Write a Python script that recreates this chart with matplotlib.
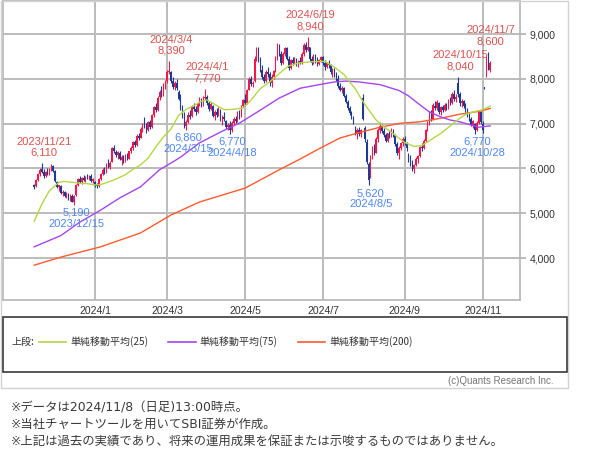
import matplotlib
matplotlib.use("Agg")
import matplotlib.pyplot as plt
from matplotlib.patches import Rectangle
from matplotlib.lines import Line2D
from matplotlib.ticker import FuncFormatter
import numpy as np

plt.rcParams['font.family'] = ['Liberation Sans', 'Noto Sans CJK JP', 'DejaVu Sans']

# ---------------- data (daily candles, 2023/11/15 .. 2024/11/8, trading-day index) ----------------
opens = [
    5620, 5600, 5740, 5880, 5980, 5920, 5820, 5930, 5870, 5990,
    6050, 5940, 5700, 5580, 5610, 5450, 5480, 5400, 5440, 5320,
    5380, 5250, 5400, 5620, 5760, 5690, 5780, 5740, 5800, 5770,
    5840, 5720, 5700, 5620, 5600, 5760, 5880, 5970, 5920, 6100,
    6040, 6150, 6460, 6370, 6300, 6350, 6190, 6250, 6160, 6300,
    6220, 6380, 6460, 6580, 6520, 6730, 6690, 6880, 6980, 6940,
    6860, 7030, 6920, 7200, 7360, 7300, 7600, 7700, 7640, 7860,
    7950, 8160, 8150, 7950, 7820, 7900, 7700, 7560, 7350, 7150,
    6950, 7040, 7200, 7160, 7380, 7320, 7250, 7450, 7560, 7420,
    7580, 7600, 7450, 7320, 7400, 7180, 7260, 7200, 7300, 7080,
    7150, 7050, 6920, 6980, 6850, 7020, 7100, 7060, 7250, 7150,
    7400, 7520, 7450, 7760, 8000, 7880, 7950, 8450, 8650, 8420,
    8200, 8050, 7960, 8150, 8100, 7900, 8050, 8180, 8450, 8750,
    8550, 8350, 8560, 8680, 8450, 8250, 8420, 8350, 8440, 8300,
    8400, 8350, 8560, 8750, 8640, 8700, 8450, 8350, 8520, 8400,
    8320, 8420, 8480, 8350, 8260, 8350, 8300, 8150, 8200, 8080,
    8000, 7850, 7750, 7800, 7620, 7480, 7350, 7230, 7150, 6920,
    6800, 6850, 6760, 7580, 6900, 6600, 6100, 5800, 6250, 6400,
    6350, 6650, 6850, 6950, 6830, 6750, 6620, 6780, 6720, 6860,
    6740, 6540, 6350, 6450, 6560, 6650, 6560, 6300, 6200, 6100,
    5980, 6080, 6200, 6280, 6480, 6450, 6620, 6850, 7000, 7200,
    7100, 7400, 7350, 7450, 7260, 7380, 7300, 7420, 7330, 7520,
    7450, 7650, 7560, 7900, 7650, 7450, 7500, 7400, 7300, 7180,
    7100, 6980, 7000, 6850, 7020, 7250, 7000, 7800, 8100, 8450,
    8200,
]
highs = [
    5660, 5760, 5900, 6000, 6110, 5990, 5950, 6000, 6020, 6090,
    6080, 5960, 5720, 5640, 5630, 5520, 5500, 5470, 5460, 5420,
    5440, 5400, 5650, 5780, 5820, 5800, 5850, 5830, 5880, 5860,
    5870, 5790, 5720, 5680, 5780, 5900, 6000, 6040, 6120, 6200,
    6160, 6480, 6520, 6420, 6400, 6380, 6300, 6290, 6320, 6340,
    6400, 6500, 6620, 6640, 6760, 6800, 6920, 7020, 7150, 7020,
    7060, 7080, 7220, 7400, 7450, 7620, 7750, 7850, 7900, 7980,
    8200, 8390, 8180, 8050, 7950, 8000, 7760, 7650, 7420, 7250,
    7080, 7250, 7300, 7420, 7460, 7400, 7480, 7600, 7580, 7620,
    7770, 7640, 7500, 7480, 7420, 7300, 7340, 7380, 7320, 7200,
    7250, 7080, 7020, 7060, 7050, 7150, 7180, 7280, 7300, 7420,
    7560, 7650, 7780, 8040, 8060, 7950, 8500, 8710, 8700, 8480,
    8300, 8100, 8200, 8260, 8150, 8100, 8200, 8500, 8800, 8780,
    8620, 8600, 8720, 8700, 8500, 8450, 8480, 8480, 8460, 8420,
    8480, 8600, 8800, 8820, 8940, 8720, 8520, 8560, 8550, 8480,
    8450, 8520, 8500, 8420, 8380, 8420, 8340, 8250, 8240, 8150,
    8080, 7900, 7850, 7820, 7650, 7520, 7400, 7280, 7180, 6950,
    6900, 6920, 6880, 7650, 6950, 6650, 6150, 6300, 6500, 6550,
    6700, 6900, 7040, 7000, 6900, 6800, 6800, 6850, 6900, 6880,
    6760, 6600, 6500, 6600, 6700, 6720, 6600, 6350, 6300, 6180,
    6100, 6250, 6300, 6500, 6560, 6650, 6880, 7050, 7280, 7300,
    7460, 7500, 7520, 7480, 7400, 7420, 7450, 7460, 7550, 7600,
    7700, 7750, 7650, 8040, 7700, 7550, 7530, 7450, 7350, 7250,
    7150, 7080, 7020, 7050, 7300, 7280, 7050, 7820, 8500, 8600,
    8400,
]
lows = [
    5540, 5590, 5720, 5840, 5900, 5780, 5800, 5860, 5850, 5940,
    5920, 5700, 5560, 5500, 5440, 5380, 5360, 5340, 5300, 5280,
    5240, 5190, 5390, 5600, 5680, 5660, 5720, 5700, 5760, 5740,
    5700, 5680, 5580, 5560, 5590, 5740, 5850, 5880, 5900, 6020,
    5980, 6140, 6340, 6250, 6220, 6180, 6080, 6130, 6140, 6190,
    6200, 6340, 6420, 6480, 6500, 6640, 6670, 6820, 6900, 6800,
    6840, 6880, 6900, 7150, 7250, 7280, 7520, 7600, 7620, 7780,
    7900, 8100, 7900, 7780, 7750, 7760, 7520, 7300, 7120, 6900,
    6860, 7020, 7100, 7140, 7280, 7200, 7230, 7400, 7380, 7400,
    7520, 7420, 7280, 7300, 7150, 7080, 7150, 7180, 7050, 6980,
    7050, 6880, 6850, 6770, 6820, 6980, 7020, 7040, 7100, 7140,
    7380, 7400, 7440, 7740, 7840, 7820, 7940, 8400, 8380, 8150,
    8000, 7900, 7940, 8050, 7850, 7820, 8000, 8160, 8420, 8500,
    8300, 8330, 8500, 8420, 8200, 8230, 8300, 8320, 8280, 8260,
    8320, 8340, 8520, 8600, 8620, 8400, 8300, 8330, 8350, 8280,
    8300, 8380, 8300, 8200, 8240, 8250, 8100, 8040, 8050, 7950,
    7800, 7720, 7680, 7600, 7450, 7300, 7200, 7100, 7000, 6750,
    6650, 6720, 6700, 7080, 6600, 6100, 5620, 5780, 6200, 6300,
    6340, 6600, 6800, 6800, 6700, 6580, 6600, 6680, 6700, 6700,
    6500, 6300, 6200, 6420, 6500, 6520, 6400, 6150, 6050, 5950,
    5900, 6050, 6120, 6260, 6400, 6430, 6600, 6830, 6980, 7050,
    7080, 7300, 7300, 7220, 7200, 7250, 7280, 7300, 7320, 7420,
    7430, 7500, 7480, 7600, 7400, 7380, 7350, 7250, 7150, 7050,
    6950, 6900, 6770, 6830, 7000, 7000, 6800, 7780, 8050, 8200,
    8150,
]
closes = [
    5580, 5740, 5880, 5960, 5930, 5820, 5920, 5880, 5990, 6060,
    5950, 5720, 5590, 5620, 5460, 5480, 5380, 5440, 5320, 5400,
    5260, 5380, 5620, 5760, 5700, 5780, 5750, 5810, 5780, 5840,
    5720, 5760, 5620, 5600, 5760, 5880, 5970, 5920, 6100, 6050,
    6130, 6450, 6380, 6300, 6360, 6200, 6260, 6160, 6300, 6220,
    6380, 6460, 6580, 6520, 6730, 6680, 6880, 6960, 6950, 6860,
    7030, 6920, 7200, 7360, 7300, 7580, 7700, 7640, 7860, 7940,
    8150, 8180, 7950, 7820, 7900, 7800, 7560, 7350, 7150, 6950,
    7040, 7200, 7150, 7380, 7320, 7250, 7450, 7560, 7420, 7580,
    7600, 7450, 7320, 7440, 7180, 7260, 7200, 7350, 7080, 7150,
    7100, 6920, 6980, 6850, 7020, 7100, 7060, 7250, 7150, 7400,
    7520, 7450, 7760, 8000, 7880, 7900, 8450, 8650, 8420, 8200,
    8050, 7960, 8150, 8100, 7900, 8050, 8180, 8450, 8750, 8550,
    8350, 8560, 8680, 8450, 8250, 8420, 8350, 8440, 8300, 8400,
    8350, 8560, 8750, 8640, 8700, 8450, 8350, 8520, 8400, 8320,
    8420, 8480, 8350, 8260, 8350, 8300, 8150, 8200, 8080, 8000,
    7850, 7750, 7800, 7620, 7480, 7350, 7230, 7150, 7020, 6800,
    6850, 6760, 6850, 7100, 6650, 6150, 5750, 6250, 6450, 6350,
    6650, 6850, 6950, 6830, 6750, 6620, 6780, 6720, 6860, 6740,
    6540, 6350, 6450, 6560, 6650, 6560, 6450, 6200, 6100, 6000,
    6080, 6220, 6280, 6480, 6450, 6620, 6850, 7000, 7200, 7100,
    7420, 7350, 7480, 7260, 7380, 7300, 7420, 7330, 7520, 7450,
    7650, 7560, 7600, 7650, 7450, 7500, 7400, 7300, 7180, 7100,
    6980, 7050, 6850, 7020, 7250, 7030, 6850, 7800, 8450, 8250,
    8350,
]

# moving averages (trading-day index -> price)
ma25_idx = [0, 4, 8, 13, 16, 20, 24, 28, 32, 35, 40, 44, 48, 52, 56, 60, 64, 68, 72, 76,
            80, 84, 88, 91, 95, 100, 105, 110, 114, 119, 124, 129, 134, 139, 145, 153,
            158, 163, 166, 169, 172, 175, 180, 185, 190, 195, 200, 204, 208, 214, 219,
            224, 228, 232, 236, 240]
ma25_val = [4820, 5200, 5500, 5690, 5710, 5690, 5670, 5660, 5630, 5640, 5710, 5780, 5860,
            5980, 6080, 6230, 6480, 6700, 6880, 7180, 7320, 7400, 7500, 7530, 7430, 7310,
            7320, 7350, 7520, 7780, 7930, 8120, 8290, 8350, 8380, 8390, 8260, 8100, 7930,
            7780, 7560, 7370, 7080, 6900, 6740, 6580, 6490, 6510, 6620, 6780, 6950, 7120,
            7220, 7270, 7310, 7390]
ma75_idx = [0, 14, 24, 35, 45, 56, 66, 72, 77, 87, 98, 108, 119, 129, 140, 150, 158, 164,
            171, 182, 192, 197, 203, 208, 214, 219, 224, 229, 234, 240]
ma75_val = [4250, 4500, 4800, 5070, 5340, 5590, 5970, 6120, 6250, 6570, 6810, 7010, 7300,
            7570, 7790, 7870, 7930, 7950, 7930, 7870, 7740, 7620, 7420, 7260, 7150, 7080,
            7040, 6980, 6920, 6950]
ma200_idx = [0, 14, 35, 56, 72, 87, 111, 129, 140, 150, 161, 172, 182, 193, 203, 214, 224,
             235, 240]
ma200_val = [3840, 4020, 4250, 4560, 4960, 5250, 5560, 5970, 6210, 6440, 6680, 6810, 6920,
             7010, 7040, 7120, 7210, 7280, 7340]

# axis ticks
x_tick_idx = [32, 70, 111, 152, 195, 236]
x_tick_labels = ["2024/1", "2024/3", "2024/5", "2024/7", "2024/9", "2024/11"]
y_ticks = [4000, 5000, 6000, 7000, 8000, 9000]

# high / low annotations
ann_idx = [4, 71, 90, 144, 223, 239, 21, 80, 103, 176, 232]
ann_dates = ["2023/11/21", "2024/3/4", "2024/4/1", "2024/6/19", "2024/10/15", "2024/11/7",
             "2023/12/15", "2024/3/15", "2024/4/18", "2024/8/5", "2024/10/28"]
ann_values = [6110, 8390, 7770, 8940, 8040, 8600, 5190, 6860, 6770, 5620, 6770]
ann_is_high = [True, True, True, True, True, True, False, False, False, False, False]

legend_labels = ["単純移動平均(25)", "単純移動平均(75)", "単純移動平均(200)"]
footnotes = ["※データは2024/11/8（日足)13:00時点。",
             "※当社チャートツールを用いてSBI証券が作成。",
             "※上記は過去の実績であり、将来の運用成果を保証または示唆するものではありません。"]

# ---------------- styling ----------------
RED = '#f5174a'
BLUE = '#1d3b95'
C25 = '#b2d843'
C75 = '#a545ee'
C200 = '#ff5a2e'
GRID = '#bcbcbc'
TXT = '#333333'
ANN_RED = '#d9534f'
ANN_BLUE = '#4f86f7'

W, H = 600, 465
fig = plt.figure(figsize=(6, 4.65), dpi=100)
fig.patch.set_facecolor('white')


def fx(px):
    return px / W


def fy(py):
    return 1 - py / H


ax = fig.add_axes([fx(3), fy(300), fx(520) - fx(3), fy(1) - fy(300)])

n = min(len(opens), len(highs), len(lows), len(closes))
o = np.array(opens[:n], float)
h = np.array(highs[:n], float)
l = np.array(lows[:n], float)
c = np.array(closes[:n], float)
xi = np.arange(n)
cols = [RED if cc > oo else BLUE for oo, cc in zip(o, c)]

ax.vlines(xi, l, h, colors=cols, lw=0.8, zorder=3)
ax.bar(xi, np.maximum(np.abs(c - o), 18), bottom=np.minimum(o, c), width=0.8,
       color=cols, linewidth=0, zorder=3)

ax.plot(ma200_idx, ma200_val, color=C200, lw=1.0, zorder=4)
ax.plot(ma75_idx, ma75_val, color=C75, lw=1.0, zorder=4)
ax.plot(ma25_idx, ma25_val, color=C25, lw=1.0, zorder=4)

ax.set_xlim(-16.4, 255.7)
ax.set_ylim(3063, 9737)

ax.set_yticks(y_ticks)
ax.yaxis.tick_right()
ax.yaxis.set_major_formatter(FuncFormatter(lambda v, p: f"{int(v):,}"))
ax.set_xticks(x_tick_idx)
ax.set_xticklabels(x_tick_labels)
ax.grid(True, color=GRID, lw=1.4, zorder=0)
ax.set_axisbelow(True)
ax.tick_params(axis='y', right=True, left=False, length=4, width=1.4, color=GRID,
               labelsize=7.5, labelcolor=TXT, pad=3)
ax.tick_params(axis='x', length=0, pad=4, labelsize=7.5, labelcolor=TXT)
for s in ax.spines.values():
    s.set_color('#b5b5b5')
    s.set_linewidth(1.2)

for i, d, v, hi in zip(ann_idx, ann_dates, ann_values, ann_is_high):
    if hi:
        ax.annotate(f"{d}\n{v:,}", xy=(i, v), xytext=(1.5, 4), textcoords='offset points',
                    ha='center', va='bottom', fontsize=8, color=ANN_RED,
                    linespacing=1.15, zorder=6)
    else:
        ax.annotate(f"{v:,}\n{d}", xy=(i, v), xytext=(1.5, -2), textcoords='offset points',
                    ha='center', va='top', fontsize=8, color=ANN_BLUE,
                    linespacing=1.15, zorder=6)

# outer frame
fig.add_artist(Rectangle((fx(0.5), fy(388)), fx(568) - fx(0.5), fy(0.5) - fy(388),
                         transform=fig.transFigure, fill=False, ec='#d2d2d2', lw=1.0))
# legend box
fig.add_artist(Rectangle((fx(3), fy(372)), fx(567) - fx(3), fy(317) - fy(372),
                         transform=fig.transFigure, fill=False, ec='#3a3a3a', lw=1.2))
ly = fy(342)
jp = ['Noto Sans CJK JP', 'DejaVu Sans']
fig.text(fx(11), ly, "上段:", fontsize=7.2, color=TXT, va='center', ha='left', family=jp)
seg = [(39, 66, 70, C25), (168, 196, 199, C75), (298, 325, 329, C200)]
for (x0, x1, tx, colr), lab in zip(seg, legend_labels):
    fig.add_artist(Line2D([fx(x0), fx(x1)], [ly, ly], transform=fig.transFigure,
                          color=colr, lw=1.2))
    fig.text(fx(tx), ly, lab, fontsize=7.2, color=TXT, va='center', ha='left', family=jp)

fig.text(fx(554), fy(381), "(c)Quants Research Inc.", fontsize=7, color='#777777',
         ha='right', va='center')

foot_family = ['DejaVu Sans', 'Noto Sans CJK JP']
for k, line in enumerate(footnotes):
    fig.text(fx(11), fy(408 + 16.8 * k), line, fontsize=8.9, color='#3a3a3a', ha='left',
             va='center', family=foot_family)

fig.savefig("out.png", dpi=100)
